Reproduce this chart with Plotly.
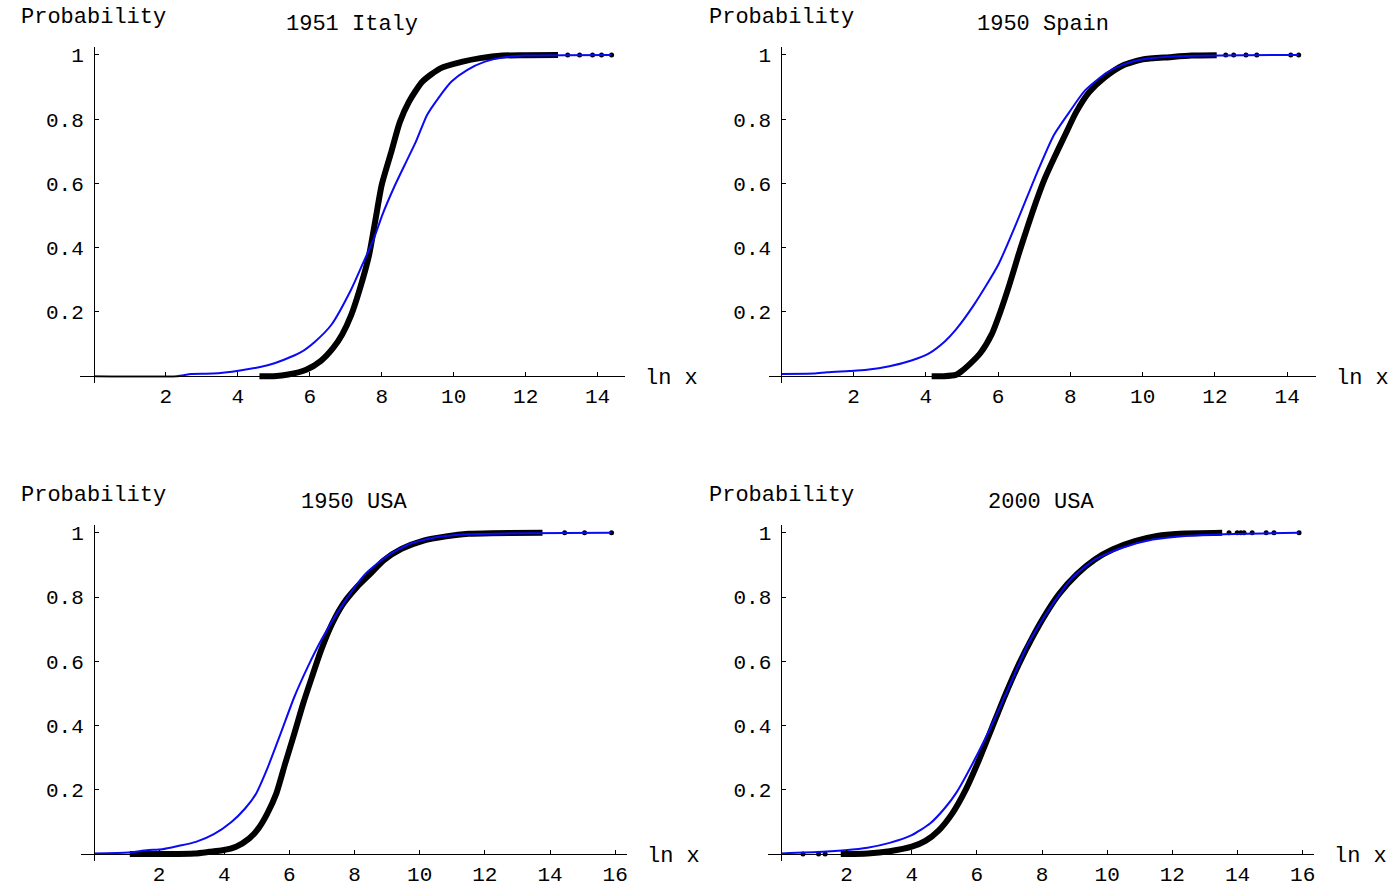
import plotly.graph_objects as go

W, H = 1388, 889
FONT = "Liberation Mono, Courier New, monospace"
BLUE = "#0a0af5"

# ---------------- 1951 Italy ----------------
italy_emp_x = [4.6, 5.0, 5.4, 5.9, 6.3, 6.65, 6.9, 7.15, 7.4, 7.65, 7.83, 8.0, 8.27,
               8.5, 8.76, 9.13, 9.63, 10.25, 10.74, 11.36, 12.0, 12.9]
italy_emp_y = [0.0, 0.0, 0.005, 0.02, 0.047, 0.088, 0.13, 0.19, 0.275, 0.378, 0.49, 0.596,
               0.70, 0.79, 0.855, 0.917, 0.958, 0.979, 0.99, 0.998, 0.999, 1.0]
italy_tail_x = [13.17, 13.5, 13.86, 14.11, 14.39]
italy_tail_y = [1.0, 1.0, 1.0, 1.0, 1.0]
italy_fit_x = [0.0, 2.3, 2.7, 3.3, 4.06, 4.8, 5.3, 5.73, 6.16, 6.6, 7.15, 7.46, 7.77, 8.02,
               8.33, 8.64, 8.95, 9.26, 9.57, 9.94, 10.37, 10.87, 11.36, 11.98, 14.39]
italy_fit_y = [0.0, 0.0, 0.007, 0.008, 0.018, 0.033, 0.052, 0.073, 0.109, 0.16, 0.27, 0.347,
               0.425, 0.503, 0.585, 0.658, 0.73, 0.813, 0.865, 0.917, 0.953, 0.979, 0.992,
               0.998, 1.0]

# ---------------- 1950 Spain ----------------
spain_emp_x = [4.16, 4.5, 4.83, 4.96, 5.2, 5.51, 5.82, 6.06, 6.31, 6.56, 6.8, 7.05, 7.29,
               7.54, 7.85, 8.16, 8.52, 8.95, 9.45, 10.0, 10.74, 11.35, 12.05]
spain_emp_y = [0.0, 0.0, 0.004, 0.013, 0.036, 0.072, 0.13, 0.20, 0.284, 0.377, 0.46, 0.543,
               0.615, 0.677, 0.75, 0.822, 0.884, 0.93, 0.967, 0.986, 0.993, 0.998, 0.999]
spain_tail_x = [12.3, 12.52, 12.86, 13.16, 14.1, 14.32]
spain_tail_y = [1.0, 1.0, 1.0, 1.0, 1.0, 1.0]
spain_fit_x = [0.0, 0.9, 1.27, 1.88, 2.37, 2.99, 3.6, 4.1, 4.53, 4.83, 5.33, 6.0, 6.56,
               7.05, 7.54, 7.97, 8.4, 9.02, 9.51, 10.12, 10.98, 14.32]
spain_fit_y = [0.007, 0.008, 0.012, 0.016, 0.02, 0.031, 0.049, 0.072, 0.109, 0.145, 0.222,
               0.346, 0.491, 0.626, 0.75, 0.822, 0.889, 0.946, 0.972, 0.988, 0.996, 1.0]

# ---------------- 1950 USA ----------------
usa50_emp_x = [1.1, 2.0, 3.1, 3.54, 3.95, 4.36, 4.77, 5.05, 5.32, 5.6, 5.87, 6.15, 6.42,
               6.69, 6.97, 7.31, 7.65, 8.07, 8.48, 8.89, 9.44, 10.12, 10.81, 11.5, 12.18,
               13.77]
usa50_emp_y = [0.0, 0.0, 0.002, 0.007, 0.012, 0.023, 0.049, 0.08, 0.126, 0.189, 0.282,
               0.375, 0.468, 0.551, 0.634, 0.717, 0.779, 0.831, 0.872, 0.914, 0.95, 0.976,
               0.989, 0.997, 0.999, 1.0]
usa50_tail_x = [14.45, 15.06, 15.89]
usa50_tail_y = [1.0, 1.0, 1.0]
usa50_fit_x = [0.0, 1.07, 1.62, 2.1, 2.58, 3.13, 3.68, 4.22, 4.64, 4.98, 5.32, 5.73, 6.15,
               6.56, 6.97, 7.65, 8.34, 9.03, 9.71, 10.54, 11.5, 15.89]
usa50_fit_y = [0.002, 0.005, 0.012, 0.015, 0.025, 0.038, 0.062, 0.1, 0.142, 0.189, 0.266,
               0.375, 0.489, 0.582, 0.665, 0.779, 0.873, 0.93, 0.966, 0.987, 0.996, 1.0]

# ---------------- 2000 USA ----------------
usa00_emp_x = [1.82, 2.64, 3.32, 4.0, 4.42, 4.83, 5.24, 5.65, 6.06, 6.47, 6.88, 7.29, 7.7,
               8.11, 8.52, 9.07, 9.62, 10.16, 10.85, 11.53, 12.22, 13.53]
usa00_emp_y = [0.0, 0.002, 0.009, 0.023, 0.041, 0.074, 0.126, 0.199, 0.292, 0.395, 0.498,
               0.592, 0.674, 0.747, 0.809, 0.871, 0.917, 0.948, 0.974, 0.99, 0.997, 1.0]
usa00_low_x = [0.66, 1.14, 1.34]
usa00_low_y = [0.0, 0.0, 0.0]
usa00_tail_x = [13.74, 13.99, 14.1, 14.2, 14.45, 14.88, 15.12, 15.89]
usa00_tail_y = [1.0, 1.0, 1.0, 1.0, 1.0, 1.0, 1.0, 1.0]
usa00_fit_x = [0.0, 1.27, 1.96, 2.64, 3.32, 4.0, 4.56, 5.03, 5.38, 5.92, 6.47, 7.02, 7.57,
               8.25, 8.93, 9.62, 10.44, 11.4, 12.49, 13.58, 15.89]
usa00_fit_y = [0.002, 0.007, 0.012, 0.02, 0.035, 0.059, 0.095, 0.145, 0.193, 0.292, 0.405,
               0.529, 0.654, 0.767, 0.86, 0.917, 0.953, 0.979, 0.991, 0.996, 1.0]

titles = ["1951 Italy", "1950 Spain", "1950 USA", "2000 USA"]
x_ticks_top = [2, 4, 6, 8, 10, 12, 14]
x_ticks_bottom = [2, 4, 6, 8, 10, 12, 14, 16]
y_ticks = [0.2, 0.4, 0.6, 0.8, 1.0]
y_tick_text = ["0.2", "0.4", "0.6", "0.8", "1"]

panels = [
    dict(title=titles[0], emp=(italy_emp_x, italy_emp_y), dots=[(italy_tail_x, italy_tail_y)],
         fit=(italy_fit_x, italy_fit_y), xticks=x_ticks_top,
         box=(80, 625, 45, 382), xr=(-0.39, 14.75), yr=(-0.0217, 1.025)),
    dict(title=titles[1], emp=(spain_emp_x, spain_emp_y), dots=[(spain_tail_x, spain_tail_y)],
         fit=(spain_fit_x, spain_fit_y), xticks=x_ticks_top,
         box=(770, 1317, 45, 382), xr=(-0.33, 14.8), yr=(-0.0217, 1.025)),
    dict(title=titles[2], emp=(usa50_emp_x, usa50_emp_y), dots=[(usa50_tail_x, usa50_tail_y)],
         fit=(usa50_fit_x, usa50_fit_y), xticks=x_ticks_bottom,
         box=(81, 627, 524, 861), xr=(-0.4, 16.35), yr=(-0.0217, 1.025)),
    dict(title=titles[3], emp=(usa00_emp_x, usa00_emp_y),
         dots=[(usa00_low_x, usa00_low_y), (usa00_tail_x, usa00_tail_y)],
         fit=(usa00_fit_x, usa00_fit_y), xticks=x_ticks_bottom,
         box=(769, 1315, 524, 861), xr=(-0.4, 16.35), yr=(-0.0217, 1.025)),
]

fig = go.Figure()
layout = dict(
    width=W, height=H, margin=dict(l=0, r=0, t=0, b=0),
    paper_bgcolor="white", plot_bgcolor="white", showlegend=False,
    font=dict(family=FONT, color="black"),
)
annotations = []

for i, p in enumerate(panels, start=1):
    xa = "x" if i == 1 else f"x{i}"
    ya = "y" if i == 1 else f"y{i}"
    left, right, top, bottom = p["box"]
    dx = [left / W, right / W]
    dy = [1 - bottom / H, 1 - top / H]
    xr, yr = p["xr"], p["yr"]
    # axes cross at the origin
    pos_x_axis = dy[0] + (0 - yr[0]) / (yr[1] - yr[0]) * (dy[1] - dy[0])
    pos_y_axis = dx[0] + (0 - xr[0]) / (xr[1] - xr[0]) * (dx[1] - dx[0])

    ex, ey = p["emp"]
    fig.add_trace(go.Scatter(x=ex, y=ey, mode="lines", xaxis=xa, yaxis=ya,
                             line=dict(color="black", width=6, shape="spline", smoothing=0.6),
                             hoverinfo="skip"))
    for tx, ty in p["dots"]:
        fig.add_trace(go.Scatter(x=tx, y=ty, mode="markers", xaxis=xa, yaxis=ya,
                                 marker=dict(color="black", size=5), hoverinfo="skip"))
    fx, fy = p["fit"]
    fig.add_trace(go.Scatter(x=fx, y=fy, mode="lines", xaxis=xa, yaxis=ya,
                             line=dict(color=BLUE, width=2, shape="spline", smoothing=0.6),
                             hoverinfo="skip"))

    xkey = "xaxis" if i == 1 else f"xaxis{i}"
    ykey = "yaxis" if i == 1 else f"yaxis{i}"
    layout[xkey] = dict(
        domain=dx, range=list(xr), anchor="free", position=pos_x_axis, side="bottom",
        showline=True, linecolor="black", linewidth=1, mirror=False,
        ticks="inside", ticklen=4, tickwidth=1, tickcolor="black",
        tickvals=p["xticks"], ticktext=[str(v) for v in p["xticks"]],
        tickfont=dict(family=FONT, size=21, color="black"), ticklabelstandoff=1,
        showgrid=False, zeroline=False, fixedrange=True,
    )
    layout[ykey] = dict(
        domain=dy, range=list(yr), anchor="free", position=pos_y_axis, side="left",
        showline=True, linecolor="black", linewidth=1, mirror=False,
        ticks="inside", ticklen=4, tickwidth=1, tickcolor="black",
        tickvals=y_ticks, ticktext=y_tick_text,
        tickfont=dict(family=FONT, size=21, color="black"), ticklabelstandoff=6,
        showgrid=False, zeroline=False, fixedrange=True,
    )

    # panel title, axis captions
    origin_px = pos_y_axis * W
    axis_py = (1 - pos_x_axis) * H
    annotations.append(dict(text=p["title"], xref="paper", yref="paper",
                            x=(left + right) / 2 / W, y=1 - (top - 22) / H,
                            xanchor="center", yanchor="middle", showarrow=False,
                            font=dict(family=FONT, size=22, color="black")))
    annotations.append(dict(text="Probability", xref="paper", yref="paper",
                            x=origin_px / W, y=1 - (top - 29) / H,
                            xanchor="center", yanchor="middle", showarrow=False,
                            font=dict(family=FONT, size=22, color="black")))
    annotations.append(dict(text="ln x", xref="paper", yref="paper",
                            x=(right + 18) / W, y=1 - (axis_py + 2) / H,
                            xanchor="left", yanchor="middle", showarrow=False,
                            font=dict(family=FONT, size=22, color="black")))

layout["annotations"] = annotations
fig.update_layout(**layout)
fig.write_html("out.html")
